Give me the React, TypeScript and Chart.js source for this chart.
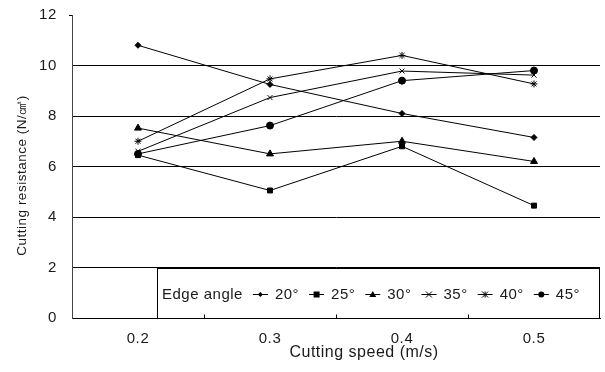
import React, { useEffect, useRef } from "react";
import { Chart, registerables } from "chart.js";

Chart.register(...registerables);

const speeds = ["0.2", "0.3", "0.4", "0.5"];
const angles = ["20°", "25°", "30°", "35°", "40°", "45°"];
const s20 = [10.8, 9.25, 8.1, 7.15];
const s25 = [6.45, 5.05, 6.8, 4.45];
const s30 = [7.52, 6.5, 7.0, 6.2];
const s35 = [6.6, 8.73, 9.78, 9.62];
const s40 = [7.0, 9.47, 10.4, 9.27];
const s45 = [6.5, 7.62, 9.4, 9.8];
const yTicks = [0, 2, 4, 6, 8, 10, 12];
const xTitle = "Cutting speed (m/s)";
const yTitle = "Cutting resistance (N/㎠)";

const FONT = "'Liberation Sans', Arial, sans-serif";
const TXT = "#1a1a1a";

const markerStyles = [
  { style: "rectRot", r: 3 },
  { style: "rect", r: 3.5 },
  { style: "triangle", r: 4 },
  { style: "crossRot", r: 3.5 },
  { style: "star", r: 3.5 },
  { style: "circle", r: 3.5 },
];

function drawPoint(ctx: CanvasRenderingContext2D, style: string, r: number, x: number, y: number) {
  ctx.save();
  ctx.fillStyle = "#000";
  ctx.strokeStyle = "#000";
  ctx.lineWidth = 1;
  ctx.beginPath();
  if (style === "rectRot") {
    ctx.moveTo(x, y - r);
    ctx.lineTo(x + r, y);
    ctx.lineTo(x, y + r);
    ctx.lineTo(x - r, y);
    ctx.closePath();
    ctx.fill();
  } else if (style === "rect") {
    ctx.rect(x - r, y - r, 2 * r, 2 * r);
    ctx.fill();
  } else if (style === "triangle") {
    ctx.moveTo(x, y - r);
    ctx.lineTo(x + r, y + r * 0.7);
    ctx.lineTo(x - r, y + r * 0.7);
    ctx.closePath();
    ctx.fill();
  } else if (style === "crossRot") {
    ctx.moveTo(x - r, y - r);
    ctx.lineTo(x + r, y + r);
    ctx.moveTo(x + r, y - r);
    ctx.lineTo(x - r, y + r);
    ctx.stroke();
  } else if (style === "star") {
    ctx.moveTo(x - r, y - r);
    ctx.lineTo(x + r, y + r);
    ctx.moveTo(x + r, y - r);
    ctx.lineTo(x - r, y + r);
    ctx.moveTo(x, y - r);
    ctx.lineTo(x, y + r);
    ctx.stroke();
  } else {
    ctx.arc(x, y, r, 0, Math.PI * 2);
    ctx.fill();
  }
  ctx.restore();
}

const legendPlugin = {
  id: "boxLegend",
  afterDatasetsDraw(chart: any) {
    const { ctx, chartArea, scales } = chart;
    const x = scales.x;
    const y = scales.y;
    const left = Math.round((x.getPixelForValue(0) + x.getPixelForValue(1)) / 2 - 47);
    const top = Math.round(y.getPixelForValue(2)) + 0.5;
    const bottom = Math.round(y.getPixelForValue(0)) + 0.5;
    const right = chartArea.right - 0.5;
    ctx.save();
    ctx.fillStyle = "#fff";
    ctx.fillRect(left, top, right - left, bottom - top);
    ctx.strokeStyle = "#000";
    ctx.lineWidth = 1;
    ctx.strokeRect(left + 0.5, top, right - left - 0.5, bottom - top);
    ctx.font = `15px ${FONT}`;
    (ctx as any).letterSpacing = "0.5px";
    ctx.fillStyle = TXT;
    ctx.textBaseline = "middle";
    ctx.textAlign = "left";
    const cy = (top + bottom) / 2 + 1;
    let cx = left + 5;
    ctx.fillText("Edge angle", cx, cy);
    cx += ctx.measureText("Edge angle").width + 10;
    chart.data.datasets.forEach((ds: any, i: number) => {
      ctx.strokeStyle = "#000";
      ctx.lineWidth = 1;
      ctx.beginPath();
      ctx.moveTo(cx, cy);
      ctx.lineTo(cx + 15, cy);
      ctx.stroke();
      const m = markerStyles[i];
      drawPoint(ctx, m.style, m.r - 0.5, cx + 7.5, cy);
      cx += 22;
      ctx.fillStyle = TXT;
      ctx.fillText(ds.label, cx, cy);
      cx += ctx.measureText(ds.label).width + 10;
    });
    // small x ticks at category boundaries, pointing up
    ctx.strokeStyle = "#000";
    ctx.lineWidth = 1;
    for (let i = 0; i < speeds.length - 1; i++) {
      const px = Math.round((x.getPixelForValue(i) + x.getPixelForValue(i + 1)) / 2) + 0.5;
      ctx.beginPath();
      ctx.moveTo(px, bottom);
      ctx.lineTo(px, bottom - 4);
      ctx.stroke();
    }
    // small tick at top of y axis
    const ty = Math.round(y.getPixelForValue(12)) + 0.5;
    ctx.beginPath();
    ctx.moveTo(chartArea.left - 3, ty);
    ctx.lineTo(chartArea.left, ty);
    ctx.stroke();
    // x axis title (offset to the right as in the original)
    ctx.font = `16px ${FONT}`;
    ctx.textAlign = "center";
    ctx.textBaseline = "middle";
    ctx.fillStyle = TXT;
    ctx.fillText(xTitle, (chartArea.left + chartArea.right) / 2 + 28, bottom + 34);
    // y axis title
    ctx.font = `13.5px ${FONT}`;
    ctx.translate(22, (chartArea.top + chartArea.bottom) / 2 + 9);
    ctx.rotate(-Math.PI / 2);
    ctx.fillText(yTitle, 0, 0);
    ctx.restore();
  },
};

const spacingPlugin = {
  id: "spacing",
  beforeDraw(chart: any) {
    (chart.ctx as any).letterSpacing = "0.6px";
  },
};

export default function App() {
  const ref = useRef<HTMLCanvasElement>(null);
  useEffect(() => {
    document.body.style.margin = "0";
    const series = [s20, s25, s30, s35, s40, s45];
    const chart = new Chart(ref.current!, {
      type: "line",
      data: {
        labels: speeds,
        datasets: series.map((d, i) => ({
          label: angles[i],
          data: d,
          borderColor: "#000",
          backgroundColor: "#000",
          borderWidth: 1,
          pointStyle: markerStyles[i].style as any,
          pointRadius: markerStyles[i].r,
          pointBorderWidth: 1,
          pointBorderColor: "#000",
          pointBackgroundColor: "#000",
          tension: 0,
        })),
      },
      options: {
        animation: false,
        responsive: false,
        layout: { padding: { top: 15, right: 1, left: 0, bottom: 0 } },
        plugins: { legend: { display: false }, tooltip: { enabled: false } },
        scales: {
          x: {
            offset: true,
            grid: { display: false },
            border: { display: true, color: "#000", width: 1 },
            ticks: { color: TXT, font: { family: FONT, size: 15 }, padding: 4 },
            title: { display: false, text: xTitle },
            afterFit: (s: any) => {
              s.height = 54;
            },
          },
          y: {
            min: 0,
            max: 12,
            afterBuildTicks: (s: any) => {
              s.ticks = yTicks.map((v) => ({ value: v }));
            },
            grid: {
              color: (c: any) => (c.tick && (c.tick.value === 12 || c.tick.value === 0) ? "rgba(0,0,0,0)" : "#000"),
              drawTicks: false,
              lineWidth: 1,
            },
            border: { display: true, color: "#444", width: 1 },
            ticks: { color: TXT, font: { family: FONT, size: 15 }, padding: 15 },
            title: { display: false, text: yTitle },
            afterFit: (s: any) => {
              s.width = 72;
              s.paddingTop = 0;
              s.paddingBottom = 0;
            },
          },
        },
      },
      plugins: [spacingPlugin, legendPlugin],
    });
    return () => chart.destroy();
  }, []);
  return <canvas ref={ref} width={605} height={372} style={{ display: "block" }} />;
}
